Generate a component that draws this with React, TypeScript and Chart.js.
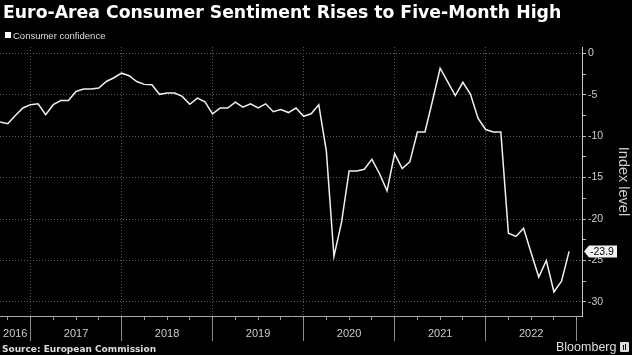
import React, { useEffect, useRef } from 'react';
import { Chart, registerables } from 'chart.js';

Chart.register(...registerables);

// ---- Data ----
const chartTitle = 'Euro-Area Consumer Sentiment Rises to Five-Month High';
const seriesName = 'Consumer confidence';
const sourceText = 'Source: European Commission';
const brandText = 'Bloomberg';
const axisTitle = 'Index level';
const years = ['2016', '2017', '2018', '2019', '2020', '2021', '2022'];
const firstYear = 2016;
// month index (months since start of 2016) at which the first reading is plotted (Aug 2016, end of month)
const firstMonthIndex = 8;
// Monthly readings, Aug 2016 .. Nov 2022
const consumerConfidence = [
  -8.3, -8.5, -7.5, -6.6, -6.2, -6.1, -7.4, -6.2, -5.7, -5.7, -4.6, -4.3,
  -4.3, -4.2, -3.4, -2.95, -2.4, -2.7, -3.4, -3.75, -3.8, -4.95, -4.8, -4.8,
  -5.2, -6.15, -5.4, -5.85, -7.3, -6.6, -6.6, -5.9, -6.5, -6.1, -6.6, -6.1,
  -7.05, -6.8, -7.15, -6.6, -7.6, -7.3, -6.2, -11.8, -24.5, -20.4, -14.2, -14.2,
  -14.0, -12.8, -14.5, -16.6, -12.1, -13.9, -13.1, -9.5, -9.5, -5.7, -1.8, -3.45,
  -5.1, -3.5, -4.95, -7.85, -9.2, -9.5, -9.5, -21.7, -22.1, -21.1, -24.1, -27.0,
  -25.0, -28.8, -27.5, -23.9,
];
const yTicks = [0, -5, -10, -15, -20, -25, -30];

// ---- Scale ranges ----
const xMin = 7.98;
const xMax = 84.7;
const yMin = -31.7;
const yMax = 0.76;

const FONT = "'Liberation Sans', Arial, sans-serif";

export default function App() {
  const canvasRef = useRef<HTMLCanvasElement | null>(null);

  useEffect(() => {
    document.body.style.margin = '0';
    document.body.style.background = '#000';
    const canvas = canvasRef.current;
    if (!canvas) return;

    const points = consumerConfidence.map((v, i) => ({ x: firstMonthIndex + i, y: v }));
    const yearBounds = years.map((_, k) => (k + 1) * 12); // 12..84
    const yearLabelPos = years.map((_, k) => {
      const s = Math.max(k * 12, xMin);
      const e = Math.min(k * 12 + 12, xMax);
      return (s + e) / 2;
    });
    const quarterTicks: number[] = [];
    for (let t = Math.ceil(xMin / 3) * 3; t <= xMax; t += 3) quarterTicks.push(t);
    const minorY: number[] = [];
    for (let v = 0; v >= -30; v -= 2.5) minorY.push(v);

    const tagPlugin = {
      id: 'lastTag',
      afterDraw(chart: any) {
        const ys = chart.scales.y;
        const last = consumerConfidence[consumerConfidence.length - 1];
        const y = Math.round(ys.getPixelForValue(last)) + 0.5;
        const x0 = chart.chartArea.right + 1;
        const ctx = chart.ctx;
        ctx.save();
        ctx.fillStyle = '#f2f2f2';
        ctx.beginPath();
        ctx.moveTo(x0 + 1, y);
        ctx.lineTo(x0 + 6, y - 6);
        ctx.lineTo(x0 + 34, y - 6);
        ctx.lineTo(x0 + 34, y + 6);
        ctx.lineTo(x0 + 6, y + 6);
        ctx.closePath();
        ctx.fill();
        ctx.fillStyle = '#000';
        ctx.font = `10.5px ${FONT}`;
        ctx.textAlign = 'left';
        ctx.textBaseline = 'middle';
        ctx.fillText(last.toFixed(1), x0 + 7, y + 0.5);
        ctx.restore();
      },
    };

    const chart = new Chart(canvas, {
      type: 'line',
      data: {
        datasets: [
          {
            label: seriesName,
            data: points,
            borderColor: '#f0f0f0',
            borderWidth: 1.5,
            pointRadius: 0,
            tension: 0,
            fill: false,
          },
        ],
      },
      options: {
        animation: false,
        responsive: false,
        devicePixelRatio: 1,
        layout: { padding: { top: 47, bottom: 10, left: 0, right: 0 }, autoPadding: false },
        plugins: { legend: { display: false }, tooltip: { enabled: false }, title: { display: false } },
        font: { family: FONT },
        scales: {
          x: {
            type: 'linear',
            position: 'bottom',
            min: xMin,
            max: xMax,
            afterBuildTicks: (s: any) => {
              s.ticks = quarterTicks.map((v) => ({ value: v }));
            },
            afterFit: (s: any) => {
              s.height = 4;
            },
            ticks: { display: false },
            grid: {
              color: (c: any) =>
                c.tick && c.tick.value % 12 === 0 && c.tick.value < 84 ? '#5a5a5a' : 'rgba(0,0,0,0)',
              lineWidth: 1,
              drawTicks: true,
              tickLength: 4,
              tickColor: '#999',
              tickBorderDash: [],
            },
            border: { display: true, color: '#aaa', width: 1, dash: [1, 2] },
          },
          x2: {
            type: 'linear',
            position: 'bottom',
            min: xMin,
            max: xMax,
            afterBuildTicks: (s: any) => {
              const arr = [...yearBounds, ...yearLabelPos].sort((a, b) => a - b);
              s.ticks = arr.map((v) => ({ value: v }));
            },
            afterFit: (s: any) => {
              s.height = 25;
            },
            ticks: {
              color: '#cccccc',
              font: { family: FONT, size: 11 },
              padding: -14,
              maxRotation: 0,
              autoSkip: false,
              callback: (v: any) => {
                const k = yearLabelPos.indexOf(Number(v));
                return k >= 0 ? String(firstYear + k) : '';
              },
            },
            grid: {
              drawOnChartArea: false,
              drawTicks: true,
              tickLength: 21,
              tickColor: (c: any) =>
                c.tick && yearBounds.includes(c.tick.value) ? '#888' : 'rgba(0,0,0,0)',
            },
            border: { display: false },
          },
          y: {
            type: 'linear',
            position: 'right',
            min: yMin,
            max: yMax,
            afterBuildTicks: (s: any) => {
              s.ticks = minorY.map((v) => ({ value: v }));
            },
            afterFit: (s: any) => {
              s.width = 50;
            },
            ticks: {
              color: '#cccccc',
              font: { family: FONT, size: 10.5 },
              padding: 2,
              autoSkip: false,
              callback: (v: any) => (yTicks.includes(Number(v)) ? String(v) : ''),
            },
            grid: {
              color: (c: any) =>
                c.tick && yTicks.includes(c.tick.value) ? '#5a5a5a' : 'rgba(0,0,0,0)',
              drawTicks: true,
              tickLength: 4,
              tickColor: '#bbb',
              tickBorderDash: [],
            },
            border: { display: true, color: '#cccccc', width: 1, dash: [1, 2] },
            title: {
              display: true,
              text: axisTitle,
              color: '#cccccc',
              font: { family: FONT, size: 14.5 },
              padding: 0,
            },
          },
        },
      },
      plugins: [tagPlugin],
    } as any);

    return () => chart.destroy();
  }, []);

  return (
    <div
      style={{
        position: 'fixed',
        left: 0,
        top: 0,
        width: 632,
        height: 355,
        background: '#000',
        overflow: 'hidden',
      }}
    >
      <canvas ref={canvasRef} width={632} height={355} style={{ position: 'absolute', left: 0, top: 0, width: 632, height: 355 }} />
      <div
        style={{
          position: 'absolute',
          left: 3,
          top: 2,
          fontFamily: "'DejaVu Sans', sans-serif",
          fontWeight: 'bold',
          fontSize: 17.3,
          lineHeight: '20px',
          color: '#ffffff',
          whiteSpace: 'nowrap',
        }}
      >
        {chartTitle}
      </div>
      <div
        style={{
          position: 'absolute',
          left: 5,
          top: 32,
          width: 6,
          height: 6,
          background: '#ffffff',
        }}
      />
      <div
        style={{
          position: 'absolute',
          left: 13,
          top: 30,
          fontFamily: FONT,
          fontSize: 9.5,
          lineHeight: '11px',
          color: '#dddddd',
          whiteSpace: 'nowrap',
        }}
      >
        {seriesName}
      </div>
      <div
        style={{
          position: 'absolute',
          left: 2,
          top: 344,
          fontFamily: "'DejaVu Sans', sans-serif",
          fontWeight: 'bold',
          fontSize: 9,
          lineHeight: '10px',
          color: '#dddddd',
          whiteSpace: 'nowrap',
        }}
      >
        {sourceText}
      </div>
      <div
        style={{
          position: 'absolute',
          left: 556,
          top: 340,
          fontFamily: FONT,
          fontSize: 12.5,
          lineHeight: '14px',
          color: '#dddddd',
          whiteSpace: 'nowrap',
        }}
      >
        {brandText}
      </div>
      <div
        style={{
          position: 'absolute',
          left: 620,
          top: 342,
          width: 9,
          height: 10,
          background: '#dddddd',
          borderRadius: 1,
        }}
      >
        <div style={{ position: 'absolute', left: 3, top: 3, width: 1, height: 5, background: '#000' }} />
        <div style={{ position: 'absolute', left: 5, top: 2, width: 1, height: 6, background: '#000' }} />
      </div>
    </div>
  );
}
